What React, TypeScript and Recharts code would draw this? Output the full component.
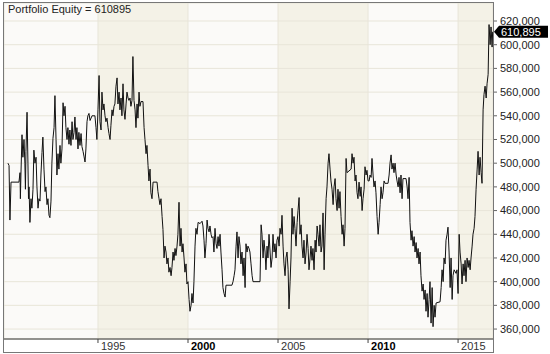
import { ComposedChart, Line, XAxis, YAxis, CartesianGrid, ReferenceLine } from 'recharts'

const FONT = '"Liberation Sans", Arial, sans-serif'

// decimal years of each traced bar
const dates = [
  1990.0, 1990.06, 1990.11, 1990.17, 1990.61, 1990.67, 1990.69, 1990.72, 1990.78, 1990.83,
  1990.89, 1990.94, 1990.97, 1991.0, 1991.06, 1991.11, 1991.14, 1991.17, 1991.22, 1991.28,
  1991.33, 1991.39, 1991.44, 1991.5, 1991.56, 1991.61, 1991.67, 1991.72, 1991.78, 1991.83,
  1991.89, 1991.94, 1992.0, 1992.06, 1992.11, 1992.17, 1992.22, 1992.28, 1992.33, 1992.39,
  1992.44, 1992.5, 1992.56, 1992.61, 1992.67, 1992.72, 1992.78, 1992.83, 1992.89, 1992.94,
  1993.0, 1993.06, 1993.11, 1993.17, 1993.22, 1993.28, 1993.33, 1993.39, 1993.44, 1993.5,
  1993.56, 1993.61, 1993.67, 1993.72, 1993.78, 1993.83, 1993.89, 1993.94, 1994.0, 1994.06,
  1994.11, 1994.17, 1994.22, 1994.28, 1994.33, 1994.39, 1994.44, 1994.5, 1994.56, 1994.67,
  1994.83, 1994.89, 1994.94, 1995.0, 1995.06, 1995.11, 1995.17, 1995.22, 1995.28, 1995.33,
  1995.39, 1995.44, 1995.5, 1995.56, 1995.61, 1995.67, 1995.72, 1995.78, 1995.83, 1995.89,
  1995.94, 1996.0, 1996.06, 1996.11, 1996.17, 1996.22, 1996.28, 1996.33, 1996.39, 1996.44,
  1996.5, 1996.56, 1996.61, 1996.67, 1996.72, 1996.78, 1996.83, 1996.89, 1996.94, 1997.0,
  1997.06, 1997.11, 1997.17, 1997.22, 1997.28, 1997.33, 1997.39, 1997.5, 1997.56, 1997.61,
  1997.67, 1997.72, 1997.78, 1997.83, 1997.89, 1997.94, 1998.0, 1998.06, 1998.28, 1998.33,
  1998.39, 1998.44, 1998.5, 1998.56, 1998.61, 1998.67, 1998.72, 1998.78, 1998.83, 1998.89,
  1998.94, 1999.0, 1999.06, 1999.11, 1999.17, 1999.22, 1999.28, 1999.33, 1999.39, 1999.44,
  1999.5, 1999.56, 1999.61, 1999.67, 1999.72, 1999.78, 1999.83, 1999.89, 1999.94, 2000.0,
  2000.06, 2000.11, 2000.17, 2000.22, 2000.28, 2000.33, 2000.39, 2000.44, 2000.5, 2000.56,
  2000.67, 2000.78, 2000.83, 2000.89, 2000.94, 2001.0, 2001.06, 2001.11, 2001.17, 2001.22,
  2001.28, 2001.33, 2001.39, 2001.44, 2001.5, 2001.56, 2001.61, 2001.67, 2001.72, 2001.78,
  2001.83, 2001.89, 2001.94, 2002.0, 2002.06, 2002.11, 2002.44, 2002.5, 2002.56, 2002.61,
  2002.67, 2002.72, 2002.78, 2002.83, 2002.89, 2002.94, 2003.0, 2003.06, 2003.11, 2003.17,
  2003.22, 2003.28, 2003.33, 2003.39, 2003.44, 2003.5, 2003.56, 2003.61, 2004.0, 2004.06,
  2004.11, 2004.17, 2004.22, 2004.28, 2004.33, 2004.39, 2004.44, 2004.5, 2004.56, 2004.61,
  2004.67, 2004.72, 2004.78, 2004.83, 2004.89, 2004.94, 2005.0, 2005.06, 2005.11, 2005.17,
  2005.22, 2005.28, 2005.33, 2005.39, 2005.44, 2005.5, 2005.56, 2005.61, 2005.67, 2005.72,
  2005.78, 2005.83, 2005.89, 2005.94, 2006.0, 2006.06, 2006.11, 2006.17, 2006.22, 2006.28,
  2006.33, 2006.39, 2006.44, 2006.5, 2006.56, 2006.61, 2006.67, 2006.72, 2006.78, 2006.83,
  2006.89, 2006.94, 2007.0, 2007.06, 2007.11, 2007.17, 2007.22, 2007.28, 2007.33, 2007.39,
  2007.44, 2007.5, 2007.56, 2007.61, 2007.67, 2007.72, 2007.78, 2007.83, 2007.89, 2007.94,
  2008.0, 2008.06, 2008.11, 2008.17, 2008.22, 2008.28, 2008.33, 2008.39, 2008.44, 2008.5,
  2008.56, 2008.61, 2008.67, 2008.72, 2008.78, 2008.83, 2009.06, 2009.11, 2009.17, 2009.22,
  2009.28, 2009.33, 2009.39, 2009.44, 2009.5, 2009.56, 2009.61, 2009.67, 2009.72, 2009.78,
  2009.83, 2009.89, 2009.94, 2010.0, 2010.06, 2010.11, 2010.17, 2010.22, 2010.28, 2010.33,
  2010.39, 2010.44, 2010.5, 2010.56, 2010.61, 2010.67, 2010.72, 2010.78, 2010.83, 2010.89,
  2010.94, 2011.11, 2011.17, 2011.22, 2011.28, 2011.33, 2011.39, 2011.44, 2011.5, 2011.56,
  2011.61, 2011.67, 2011.72, 2011.78, 2011.83, 2011.89, 2011.94, 2012.11, 2012.17, 2012.22,
  2012.28, 2012.33, 2012.39, 2012.44, 2012.5, 2012.56, 2012.61, 2012.67, 2012.72, 2012.78,
  2012.83, 2012.89, 2012.94, 2013.0, 2013.06, 2013.11, 2013.17, 2013.22, 2013.28, 2013.33,
  2013.39, 2013.44, 2013.5, 2013.56, 2013.61, 2013.67, 2013.72, 2013.78, 2014.0, 2014.06,
  2014.11, 2014.17, 2014.22, 2014.28, 2014.33, 2014.39, 2014.44, 2014.5, 2014.56, 2014.61,
  2014.67, 2014.72, 2014.78, 2014.89, 2014.94, 2015.0, 2015.06, 2015.11, 2015.17, 2015.22,
  2015.28, 2015.33, 2015.39, 2015.44, 2015.5, 2015.56, 2015.61, 2015.67, 2015.72, 2015.78,
  2015.83, 2015.89, 2015.94, 2016.0, 2016.06, 2016.11, 2016.17, 2016.22, 2016.28, 2016.33,
  2016.39, 2016.44, 2016.5, 2016.56, 2016.61, 2016.67, 2016.72, 2016.78, 2016.83, 2016.89, 2016.92,
]

// portfolio equity in thousands
const equity = [
  500, 498, 452, 484, 484, 492, 470, 490, 524, 505,
  520, 500, 478, 510, 543, 500, 470, 480, 450, 470,
  462, 478, 511, 500, 505, 480, 462, 470, 468, 490,
  509, 522, 495, 476, 480, 465, 470, 456, 454, 468,
  500, 521, 530, 557, 520, 490, 508, 495, 515, 500,
  512, 551, 540, 548, 530, 520, 530, 516, 528, 515,
  535, 520, 526, 539, 520, 530, 512, 526, 515, 525,
  514, 510, 506, 501, 512, 535, 540, 542, 536, 540,
  540, 530, 520, 545, 574, 535, 528, 560, 545, 550,
  540, 535, 538, 530, 525, 520, 532, 545, 540, 548,
  550, 565, 572, 550, 560, 545, 555, 540, 567, 545,
  537, 550, 560, 555, 553, 555, 548, 553, 590, 553,
  545, 530, 550, 538, 560, 548, 552, 552, 530, 520,
  508, 515, 498, 485, 495, 475, 470, 484, 484, 476,
  470, 465, 470, 455, 444, 420, 430, 425, 415, 420,
  408, 412, 405, 412, 425, 418, 428, 422, 430, 440,
  467, 430, 445, 425, 432, 420, 408, 415, 398, 400,
  385, 375, 380, 390, 382, 400, 430, 445, 440, 450,
  449, 451, 447, 435, 420, 432, 452, 445, 442, 447,
  440, 437, 438, 425, 445, 432, 428, 438, 430, 440,
  425, 410, 395, 390, 387, 397, 397, 400, 405, 410,
  430, 442, 420, 438, 430, 415, 425, 405, 420, 395,
  432, 425, 430, 428, 425, 415, 405, 400, 400, 448,
  440, 420, 435, 425, 410, 430, 420, 440, 425, 412,
  420, 440, 425, 432, 420, 435, 438, 430, 445, 440,
  456, 430, 415, 405, 420, 425, 410, 377, 400, 420,
  462, 440, 455, 445, 430, 450, 460, 471, 440, 448,
  430, 420, 435, 415, 425, 440, 428, 410, 420, 430,
  418, 428, 410, 435, 425, 447, 440, 430, 448, 425,
  430, 458, 410, 440, 470, 480, 500, 508, 495, 485,
  478, 465, 480, 487, 470, 460, 478, 462, 476, 455,
  440, 448, 430, 445, 504, 492, 495, 508, 500, 505,
  485, 490, 475, 470, 484, 472, 480, 460, 470, 478,
  497, 490, 494, 485, 485, 490, 488, 504, 490, 480,
  485, 475, 455, 440, 450, 465, 480, 470, 475, 485,
  483, 483, 490, 500, 507, 495, 500, 492, 500, 490,
  485, 480, 488, 475, 490, 470, 487, 487, 480, 470,
  488, 450, 435, 443, 430, 438, 425, 433, 420, 428,
  415, 425, 405, 392, 398, 385, 393, 375, 390, 370,
  385, 400, 365, 395, 362, 380, 370, 382, 383, 395,
  410, 400, 420, 415, 435, 440, 446, 425, 395, 420,
  385, 405, 410, 407, 410, 390, 440, 425, 415, 398,
  415, 405, 418, 400, 420, 412, 418, 410, 420, 430,
  440, 445, 455, 478, 495, 510, 490, 505, 492, 483,
  545, 558, 565, 555, 567, 575, 617, 600, 615, 598, 610.895,
]

const yearTicks = [1995, 2000, 2005, 2010, 2015]
const boldYears = [2000, 2010]
const equityTicks = [360, 380, 400, 420, 440, 460, 480, 500, 520, 540, 560, 580, 600, 620]
const lastEquity = 610.895

const data = dates.map((date, i) => ({ date, equity: equity[i] }))

function YearTick({ x, y, payload }: any) {
  const bold = boldYears.includes(payload.value)
  return (
    <g>
      <line x1={x} x2={x} y1={y} y2={y + 4} stroke="#444" />
      <text
        x={x + 3}
        y={y + 11}
        fontSize={11}
        fontFamily={FONT}
        fontWeight={bold ? 'bold' : 'normal'}
        fill={bold ? '#000' : '#333'}
        textAnchor="start"
      >
        {payload.value}
      </text>
    </g>
  )
}

function LastValueTag({ viewBox }: any) {
  const right = viewBox.x + viewBox.width
  const cy = viewBox.y
  return (
    <g>
      <polygon
        points={`${right + 1},${cy} ${right + 6},${cy - 6} ${right + 55},${cy - 6} ${right + 55},${cy + 6} ${right + 6},${cy + 6}`}
        fill="#000"
      />
      <text x={right + 8} y={cy + 4} fontSize={11} fontFamily={FONT} fill="#fff">
        {Math.round(lastEquity * 1000).toLocaleString('en-US')}
      </text>
    </g>
  )
}

export default function App() {
  return (
    <div style={{ position: 'fixed', left: 0, top: 0, width: 550, height: 354, background: '#fff' }}>
      <ComposedChart width={550} height={354} data={data} margin={{ top: 3, right: 0, bottom: 2, left: 4 }}>
        <CartesianGrid
          stroke="#e8e5d9"
          verticalFill={['#fbfaf8', '#f4f2e7']}
          fillOpacity={1}
        />
        <XAxis
          type="number"
          dataKey="date"
          domain={[1989.78, 2016.94]}
          ticks={yearTicks}
          allowDataOverflow
          height={13}
          tickSize={0}
          tickMargin={0}
          tickLine={false}
          axisLine={{ stroke: '#333' }}
          tick={<YearTick />}
          interval={0}
        />
        <YAxis
          orientation="right"
          width={57}
          domain={[351.6, 635.2]}
          ticks={equityTicks}
          allowDataOverflow
          tickSize={4}
          tickMargin={3}
          axisLine={false}
          tickLine={{ stroke: '#666' }}
          tickFormatter={(v: number) => `${v},000`}
          tick={{ fontSize: 11, fill: '#222', fontFamily: FONT }}
          interval={0}
        />
        <Line
          type="linear"
          dataKey="equity"
          stroke="#111"
          strokeWidth={1}
          dot={false}
          isAnimationActive={false}
        />
        <ReferenceLine y={lastEquity} stroke="none" label={(props: any) => <LastValueTag {...props} />} />
      </ComposedChart>
      <div
        style={{
          position: 'absolute',
          left: 3,
          top: 2,
          width: 491,
          height: 351,
          boxSizing: 'border-box',
          border: '1px solid #777',
          pointerEvents: 'none',
        }}
      />
      <div
        style={{
          position: 'absolute',
          left: 8,
          top: 3,
          fontFamily: FONT,
          fontSize: 11,
          lineHeight: '13px',
          color: '#222',
        }}
      >
        Portfolio Equity = 610895
      </div>
    </div>
  )
}
